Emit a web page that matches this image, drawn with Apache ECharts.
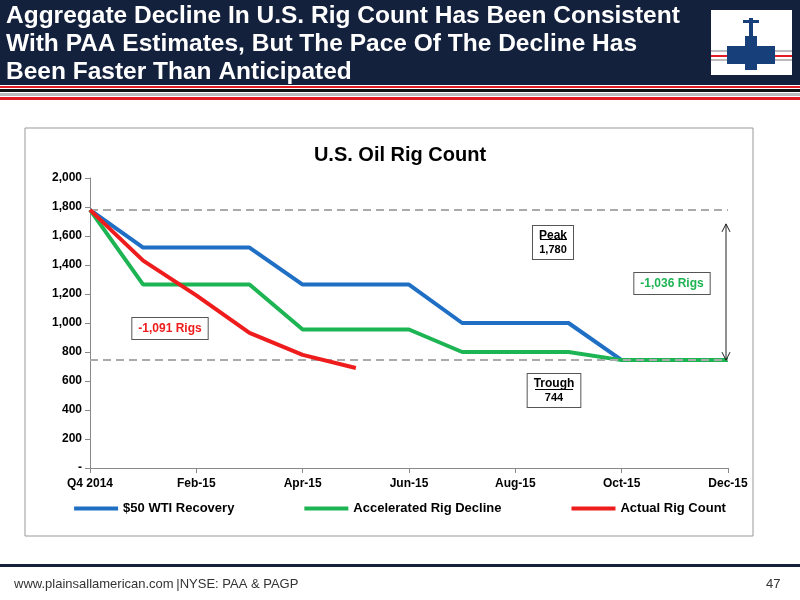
<!DOCTYPE html>
<html>
<head>
<meta charset="utf-8">
<script src="https://cdn.jsdelivr.net/npm/echarts@6/dist/echarts.min.js"></script>
<style>
html,body{margin:0;padding:0;background:#fff;}
#main{width:800px;height:600px;}
</style>
</head>
<body>
<div id="main"></div>
<script>
// categories and series values
var months = ['Q4 2014','Jan-15','Feb-15','Mar-15','Apr-15','May-15','Jun-15','Jul-15','Aug-15','Sep-15','Oct-15','Nov-15','Dec-15'];
var wtiRecovery = [1780,1520,1520,1520,1265,1265,1265,1000,1000,1000,744,744,744];
var accelDecline = [1780,1265,1265,1265,955,955,955,800,800,800,744,744,744];
var actualCount = [1780,1430,1190,932,780,690,null,null,null,null,null,null,null];
var peak = 1780;
var trough = 744;

var myChart = echarts.init(document.getElementById('main'));
var font = 'Liberation Sans, Arial, sans-serif';

var option = {
	animation: false,
	backgroundColor: '#fff',
	textStyle: {fontFamily: font},
	title: {
		text: 'U.S. Oil Rig Count', left: 395, top: 140, textAlign: 'center',
		textStyle: {fontSize: 20, fontWeight: 'bold', color: '#000', fontFamily: font}
	},
	legend: {
		bottom: 80, left: 'center', itemGap: 70, itemWidth: 44, itemHeight: 4,
		icon: 'rect',
		textStyle: {fontSize: 13, fontWeight: 'bold', color: '#000'},
		data: ['$50 WTI Recovery','Accelerated Rig Decline','Actual Rig Count']
	},
	grid: {left: 90, right: 72, top: 178, bottom: 132},
	xAxis: {
		type: 'category', boundaryGap: false, data: months,
		axisLine: {lineStyle: {color: '#888'}},
		axisTick: {show: true, interval: 1, length: 5, lineStyle: {color: '#888'}},
		axisLabel: {interval: 1, color: '#000', fontWeight: 'bold', fontSize: 12, margin: 10}
	},
	yAxis: {
		type: 'value', min: 0, max: 2000, interval: 200,
		axisLine: {show: true, lineStyle: {color: '#888'}},
		axisTick: {show: true, length: 5, lineStyle: {color: '#888'}},
		splitLine: {show: false},
		axisLabel: {
			color: '#000', fontWeight: 'bold', fontSize: 12,
			formatter: function(v){ return v == 0 ? '-' : v.toLocaleString('en-US'); }
		}
	},
	series: [
		{
			name: '$50 WTI Recovery', type: 'line', data: wtiRecovery, symbol: 'none',
			itemStyle: {color: '#1f6fc4'}, lineStyle: {width: 4, color: '#1f6fc4'}, z: 3,
			markLine: {
				silent: true, symbol: 'none', label: {show: false},
				lineStyle: {type: [8, 5], color: '#aaa', width: 2},
				data: [{yAxis: peak}, {yAxis: trough}]
			}
		},
		{
			name: 'Accelerated Rig Decline', type: 'line', data: accelDecline, symbol: 'none',
			itemStyle: {color: '#1db454'}, lineStyle: {width: 4, color: '#1db454'}, z: 4
		},
		{
			name: 'Actual Rig Count', type: 'line', data: actualCount, symbol: 'none',
			itemStyle: {color: '#ee1c1c'}, lineStyle: {width: 4, color: '#ee1c1c'}, z: 5
		}
	]
};
myChart.setOption(option);

// header, frame, footer and annotations
function px(i, v){ return myChart.convertToPixel({gridIndex: 0}, [i, v]); }
var pArrowTop = px(12, peak), pArrowBot = px(12, trough);
var ax = pArrowTop[0] - 2;

function boxText(x, y, lines, color){
	return {
		type: 'text', x: x, y: y, z: 20,
		style: {
			text: lines, fill: color, font: 'bold 12px ' + font, align: 'center', lineHeight: 15,
			backgroundColor: '#fff', borderColor: '#555', borderWidth: 1, padding: [3, 6]
		}
	};
}

var graphics = [
	{type: 'rect', shape: {x: 0, y: 0, width: 800, height: 85}, style: {fill: '#14213d'}},
	{type: 'rect', shape: {x: 0, y: 86, width: 800, height: 2}, style: {fill: '#e31b23'}},
	{type: 'rect', shape: {x: 0, y: 89, width: 800, height: 3}, style: {fill: '#111'}},
	{type: 'rect', shape: {x: 0, y: 93, width: 800, height: 3}, style: {fill: '#bbb'}},
	{type: 'rect', shape: {x: 0, y: 97, width: 800, height: 3}, style: {fill: '#e31b23'}},
	{type: 'text', x: 6, y: 2, style: {
		text: 'Aggregate Decline In U.S. Rig Count Has Been Consistent\nWith PAA Estimates, But The Pace Of The Decline Has\nBeen Faster Than Anticipated',
		fill: '#fff', font: 'bold 24.5px ' + font, lineHeight: 28
	}},
	// logo
	{type: 'rect', shape: {x: 711, y: 10, width: 81, height: 65}, style: {fill: '#fff'}},
	{type: 'rect', shape: {x: 711, y: 50, width: 81, height: 2}, style: {fill: '#bbb'}},
	{type: 'rect', shape: {x: 711, y: 55, width: 81, height: 2}, style: {fill: '#e31b23'}},
	{type: 'rect', shape: {x: 711, y: 59, width: 81, height: 2}, style: {fill: '#bbb'}},
	{type: 'rect', shape: {x: 727, y: 46, width: 48, height: 18}, style: {fill: '#17407a'}},
	{type: 'rect', shape: {x: 745, y: 36, width: 12, height: 34}, style: {fill: '#17407a'}},
	{type: 'rect', shape: {x: 749, y: 18, width: 4, height: 20}, style: {fill: '#17407a'}},
	{type: 'rect', shape: {x: 743, y: 20, width: 16, height: 3}, style: {fill: '#17407a'}},
	// chart frame
	{type: 'rect', shape: {x: 25, y: 128, width: 728, height: 408}, style: {fill: 'none', stroke: '#999', lineWidth: 1}, z: -1},
	// footer
	{type: 'rect', shape: {x: 0, y: 564, width: 800, height: 3}, style: {fill: '#14213d'}},
	{type: 'text', x: 14, y: 578, style: {text: 'www.plainsallamerican.com\u2009|NYSE: PAA & PAGP', fill: '#333', font: '13px ' + font}},
	{type: 'text', x: 766, y: 578, style: {text: '47', fill: '#333', font: '13px ' + font}},
	// annotations
	{type: 'text', x: 553, y: 226, z: 20, style: {
		text: '{u|Peak}\n{b|1,780}', align: 'center', backgroundColor: '#fff', borderColor: '#555', borderWidth: 1, padding: [2, 6],
		rich: {u: {font: 'bold 12px ' + font, lineHeight: 15, align: 'center'}, b: {font: 'bold 11px ' + font, lineHeight: 14, align: 'center'}}
	}},
	{type: 'text', x: 554, y: 374, z: 20, style: {
		text: '{u|Trough}\n{b|744}', align: 'center', backgroundColor: '#fff', borderColor: '#555', borderWidth: 1, padding: [2, 6],
		rich: {u: {font: 'bold 12px ' + font, lineHeight: 15, align: 'center'}, b: {font: 'bold 11px ' + font, lineHeight: 14, align: 'center'}}
	}},
	{type: 'rect', shape: {x: 535, y: 389, width: 38, height: 1}, style: {fill: '#000'}, z: 21},
	{type: 'rect', shape: {x: 540, y: 239, width: 27, height: 1}, style: {fill: '#000'}, z: 21},
	boxText(672, 273, '-1,036 Rigs', '#1db454'),
	boxText(170, 318, '-1,091 Rigs', '#ee1c1c'),
	{type: 'line', shape: {x1: ax, y1: pArrowTop[1] + 14, x2: ax, y2: pArrowBot[1]}, style: {stroke: '#222', lineWidth: 1}, z: 20},
	{type: 'polyline', shape: {points: [[ax - 4, pArrowTop[1] + 22], [ax, pArrowTop[1] + 14], [ax + 4, pArrowTop[1] + 22]]}, style: {stroke: '#222', fill: 'none', lineWidth: 1}, z: 20},
	{type: 'polyline', shape: {points: [[ax - 4, pArrowBot[1] - 8], [ax, pArrowBot[1]], [ax + 4, pArrowBot[1] - 8]]}, style: {stroke: '#222', fill: 'none', lineWidth: 1}, z: 20}
];
myChart.setOption({graphic: graphics});
</script>
</body>
</html>
